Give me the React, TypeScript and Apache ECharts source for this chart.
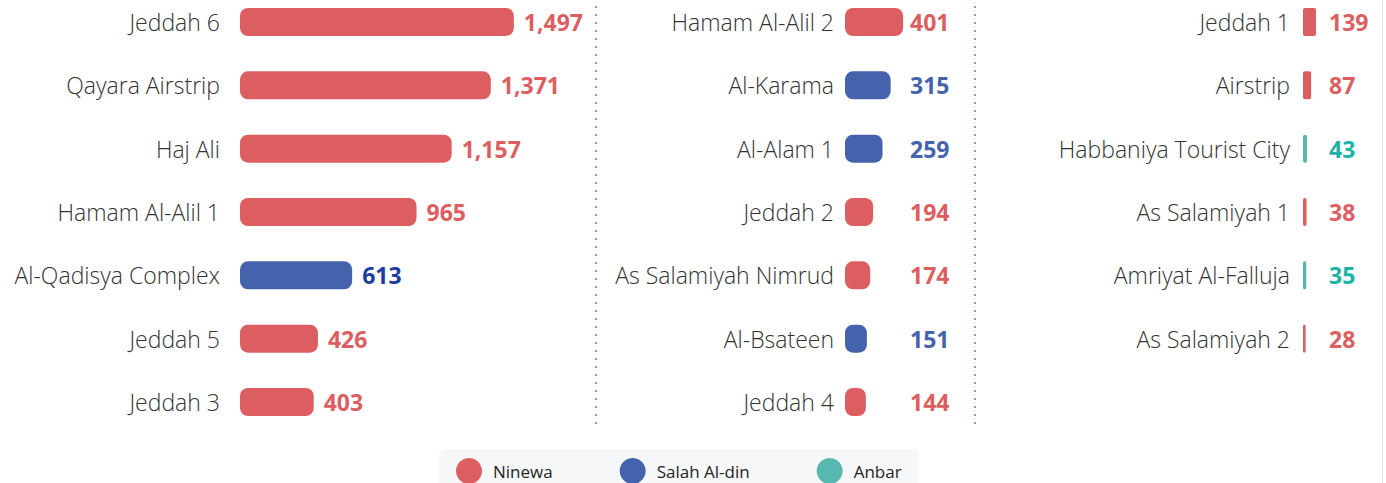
import React, { useEffect, useRef } from "react";
import * as echarts from "echarts";

const governorates = ["Ninewa", "Salah Al-din", "Anbar"];
const barColors = ["#DC5E61", "#4563AC", "#58B8B0"];
const labelColors = ["#DC5E61", "#4563AC", "#1AB3A5"];

const cats1 = ["Jeddah 6", "Qayara Airstrip", "Haj Ali", "Hamam Al-Alil 1", "Al-Qadisya Complex", "Jeddah 5", "Jeddah 3"];
const vals1 = [1497, 1371, 1157, 965, 613, 426, 403];
const gov1 = ["Ninewa", "Ninewa", "Ninewa", "Ninewa", "Salah Al-din", "Ninewa", "Ninewa"];

const cats2 = ["Hamam Al-Alil 2", "Al-Karama", "Al-Alam 1", "Jeddah 2", "As Salamiyah Nimrud", "Al-Bsateen", "Jeddah 4"];
const vals2 = [401, 315, 259, 194, 174, 151, 144];
const gov2 = ["Ninewa", "Salah Al-din", "Salah Al-din", "Ninewa", "Ninewa", "Salah Al-din", "Ninewa"];

const cats3 = ["Jeddah 1", "Airstrip", "Habbaniya Tourist City", "As Salamiyah 1", "Amriyat Al-Falluja", "As Salamiyah 2"];
const vals3 = [139, 87, 43, 38, 35, 28];
const gov3 = ["Ninewa", "Ninewa", "Anbar", "Ninewa", "Anbar", "Ninewa"];

// the chart canvas is shifted up by OFF px so that the first row can sit near the top
const OFF = 12;
const ROW = 63.33;
const TOP = 22 + OFF - ROW / 2;

function buildPanel(
  idx: number,
  cats: string[],
  vals: number[],
  govs: string[],
  left: number,
  width: number,
  max: number,
  labelMargin: number,
  labelOffset: number | null,
  radius: number
) {
  const grid = { left, top: TOP, width, height: ROW * cats.length, containLabel: false };
  const xAxis = { type: "value", gridIndex: idx, min: 0, max, show: false };
  const yAxis = {
    type: "category",
    gridIndex: idx,
    data: cats,
    inverse: true,
    axisLine: { show: false },
    axisTick: { show: false },
    splitLine: { show: false },
    axisLabel: {
      margin: labelMargin,
      color: "#333333",
      fontSize: 23,
      fontFamily: "Open Sans",
      fontWeight: 300,
    },
  };
  const series = governorates.map((g, gi) => ({
    type: "bar",
    name: g,
    xAxisIndex: idx,
    yAxisIndex: idx,
    stack: "p" + idx,
    barWidth: 28,
    itemStyle: { color: barColors[gi], borderRadius: radius },
    label: {
      show: true,
      position: labelOffset === null ? "right" : [labelOffset, "50%"],
      distance: 10,
      align: "left",
      verticalAlign: "middle",
      color: labelColors[gi],
      fontSize: 23,
      fontWeight: "bold",
      fontFamily: "Open Sans",
      formatter: (p: any) => Number(p.value).toLocaleString("en-US"),
    },
    data: vals.map((v, i) => {
      if (govs[i] !== g) return "-";
      if (v === 613) return { value: v, label: { color: "#1C3D9E" } };
      return v;
    }),
  }));
  return { grid, xAxis, yAxis, series };
}

export default function App() {
  const ref = useRef<HTMLDivElement>(null);
  useEffect(() => {
    if (!ref.current) return;
    const chart = echarts.init(ref.current, undefined, { renderer: "svg" });
    const p1 = buildPanel(0, cats1, vals1, gov1, 240, 300, 1640, 20, null, 8);
    const p2 = buildPanel(1, cats2, vals2, gov2, 845, 100, 690, 11, 65, 8);
    const p3 = buildPanel(2, cats3, vals3, gov3, 1303, 50, 535, 13, 26, 2);
    const sepStyle = { stroke: "#8D9BD1", lineWidth: 2, lineDash: [2, 6] };
    chart.setOption({
      animation: false,
      backgroundColor: "#FFFFFF",
      grid: [p1.grid, p2.grid, p3.grid],
      xAxis: [p1.xAxis, p2.xAxis, p3.xAxis],
      yAxis: [p1.yAxis, p2.yAxis, p3.yAxis],
      series: [...p1.series, ...p2.series, ...p3.series],
      legend: {
        data: governorates,
        left: 439,
        top: 449 + OFF,
        icon: "circle",
        itemWidth: 26,
        itemHeight: 26,
        itemGap: 67,
        backgroundColor: "#F6F7F9",
        borderRadius: 6,
        padding: [9, 17, 14, 17],
        textStyle: { color: "#252423", fontSize: 17, fontFamily: "Open Sans", padding: [0, 0, 0, 6] },
      },
      graphic: [
        { type: "line", shape: { x1: 596, y1: 6 + OFF, x2: 596, y2: 430 + OFF }, style: sepStyle, silent: true },
        { type: "line", shape: { x1: 975, y1: 6 + OFF, x2: 975, y2: 430 + OFF }, style: sepStyle, silent: true },
        { type: "line", shape: { x1: 1382.5, y1: 0, x2: 1382.5, y2: 483 + OFF }, style: { stroke: "#E4E4E4", lineWidth: 1 }, silent: true },
      ],
    });
    return () => chart.dispose();
  }, []);
  return <div ref={ref} style={{ position: "fixed", left: 0, top: -OFF, width: 1386, height: 483 + OFF }} />;
}
